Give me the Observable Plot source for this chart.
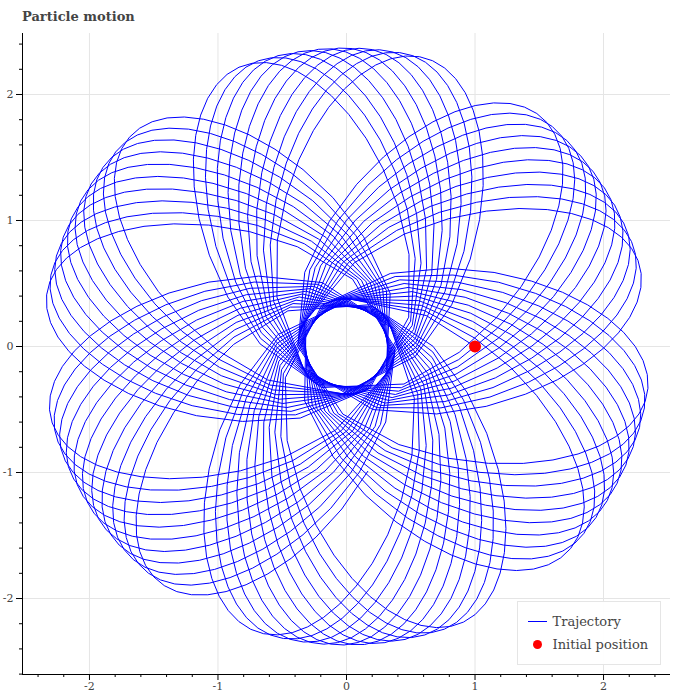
<!DOCTYPE html>
<html><head>
<meta charset="utf-8">
<script src="https://cdn.jsdelivr.net/npm/d3@7"></script>
<script src="https://cdn.jsdelivr.net/npm/@observablehq/plot@0.6"></script>
<style>
body{margin:0;background:#fff;overflow:hidden}
#wrap{position:relative;width:700px;height:700px;font-family:"DejaVu Serif",serif}
#title{position:absolute;left:22px;top:9px;font:bold 13px "DejaVu Serif",serif;color:#444;height:22px}
#chart{position:absolute;left:0;top:22px}
#legend{position:absolute;left:517px;top:601px;width:142px;height:62px;border:1px solid #e5e5e5;background:rgba(255,255,255,0.95);font:13px "DejaVu Serif",serif;color:#444}
#legend svg{position:absolute;left:0;top:0}
</style>
</head><body>
<div id="wrap">
  <div id="title"></div>
  <div id="chart"></div>
  <div id="legend"></div>
</div>
<script>
// ---- values ----
const titleText = "Particle motion";
const initialPosition = [1, 0];
const initialDirection = [-1, 1];         // moving inward, counter-clockwise at the start
const radiusRange = [0.365, 2.37];        // closest / farthest distance from the origin
const potentialExponent = [-0.6485];      // central potential V(r) ~ r^a / a
const petalCount = [62];                  // radial oscillations drawn
const samplesPerPetal = [25];             // polyline vertices per radial oscillation
const xTicks = [-2, -1, 0, 1, 2];
const yTicks = [-2, -1, 0, 1, 2];
const xDomain = [-2.521, 2.521];
const yDomain = [-2.603, 2.484];
const legendLabels = ["Trajectory", "Initial position"];

// ---- trajectory of the particle in the central force field, sampled like the reference ----
function trajectory(){
  const a = potentialExponent[0], [rmin, rmax] = radiusRange;
  const V = r => a === 0 ? Math.log(r) : Math.pow(r, a) / a;
  const L2 = (V(rmax) - V(rmin)) / (1/(2*rmin*rmin) - 1/(2*rmax*rmax));
  const E = V(rmax) + L2/(2*rmax*rmax);
  const r0 = Math.hypot(...initialPosition);
  const vr = Math.sqrt(Math.max(0, 2*(E - V(r0)) - L2/(r0*r0))), vt = Math.sqrt(L2)/r0;
  const ux = initialPosition[0]/r0, uy = initialPosition[1]/r0;
  const vx = initialDirection[0]*vr*ux - initialDirection[1]*vt*uy;
  const vy = initialDirection[0]*vr*uy + initialDirection[1]*vt*ux;
  const f = q => { const r = Math.hypot(q[0], q[1]), k = -Math.pow(r, a - 2); return [q[2], q[3], k*q[0], k*q[1]]; };
  const rk = (s, h) => { const k1=f(s), k2=f(s.map((v,i)=>v+h/2*k1[i])), k3=f(s.map((v,i)=>v+h/2*k2[i])), k4=f(s.map((v,i)=>v+h*k3[i]));
    return s.map((v,i)=>v+h/6*(k1[i]+2*k2[i]+2*k3[i]+k4[i])); };
  // radial period
  let s = [initialPosition[0], initialPosition[1], vx, vy], t = 0, h = 0.0005, prev = s[0]*s[2]+s[1]*s[3], apo = [];
  while (apo.length < 2 && t < 1e4) { s = rk(s, h); t += h; const w = s[0]*s[2]+s[1]*s[3]; if (prev > 0 && w <= 0) apo.push(t); prev = w; }
  const Tr = apo[1] - apo[0], ds = Tr / samplesPerPetal[0], m = 200, hh = ds / m;
  s = [initialPosition[0], initialPosition[1], vx, vy];
  const pts = [{x: s[0], y: s[1]}];
  const n = petalCount[0] * samplesPerPetal[0];
  for (let i = 0; i < n; i++) { for (let j = 0; j < m; j++) s = rk(s, hh); pts.push({x: s[0], y: s[1]}); }
  return pts;
}
const traj = trajectory();

const minor = (dom) => d3.range(Math.ceil(dom[0]/0.2), Math.floor(dom[1]/0.2)+1).map(k => +(k*0.2).toFixed(1)).filter(v => Math.abs(v - Math.round(v)) > 1e-6);
const font = '"DejaVu Serif", serif';

const chart = Plot.plot({
  width: 700, height: 678,
  marginTop: 11, marginLeft: 22, marginRight: 30, marginBottom: 26,
  style: {fontFamily: font, background: "white"},
  x: {domain: xDomain}, y: {domain: yDomain},
  marks: [
    Plot.ruleX(xTicks, {stroke: "#e5e5e5", strokeWidth: 1}),
    Plot.ruleY(yTicks, {stroke: "#e5e5e5", strokeWidth: 1}),
    Plot.line(traj, {x: "x", y: "y", stroke: "blue", strokeWidth: 1, curve: "linear"}),
    Plot.dot([initialPosition], {x: d => d[0], y: d => d[1], r: 6, fill: "red", stroke: "none"}),
    Plot.axisX({ticks: xTicks, tickSize: 6, tickPadding: 2, fontSize: 11, color: "#444", stroke: "black", label: null, tickFormat: d => String(d)}),
    Plot.axisX({ticks: minor(xDomain), tickSize: 3, tickFormat: () => "", label: null, stroke: "black"}),
    Plot.axisY({ticks: yTicks, tickSize: 6, tickPadding: 3, fontSize: 11, color: "#444", stroke: "black", label: null, tickFormat: d => String(d)}),
    Plot.axisY({ticks: minor(yDomain), tickSize: 3, tickFormat: () => "", label: null, stroke: "black"}),
    Plot.ruleX([xDomain[0]], {stroke: "black"}),
    Plot.ruleY([yDomain[0]], {stroke: "black"})
  ]
});
document.getElementById("chart").appendChild(chart);
document.getElementById("title").textContent = titleText;

// legend (inside the plot area, bottom right, like the reference)
const lg = d3.select("#legend").append("svg").attr("width", 142).attr("height", 62);
lg.append("line").attr("x1", 10).attr("x2", 29).attr("y1", 19.5).attr("y2", 19.5).attr("stroke", "blue").attr("stroke-width", 1);
lg.append("circle").attr("cx", 19.5).attr("cy", 42.5).attr("r", 4.5).attr("fill", "red");
lg.selectAll("text").data(legendLabels).join("text").attr("x", 34.5).attr("y", (d, i) => 20 + i*23)
  .attr("dominant-baseline", "middle").attr("font-family", font).attr("font-size", 13).attr("fill", "#444").text(d => d);
</script>
</body></html>
